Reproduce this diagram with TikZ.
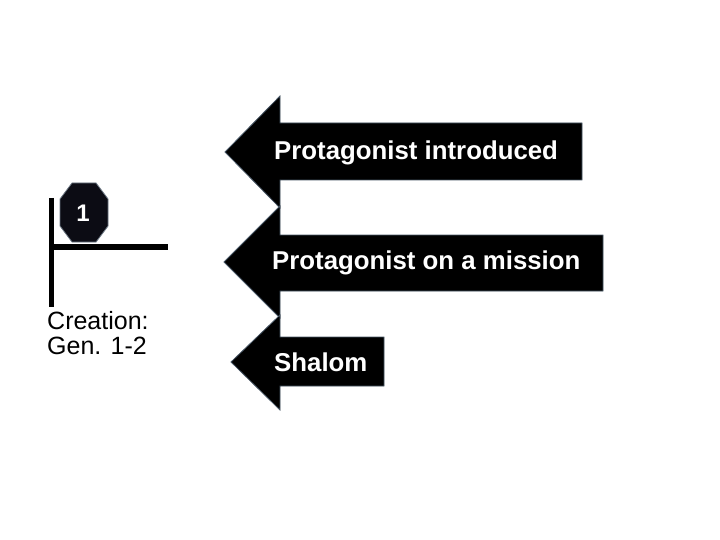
\documentclass[tikz,border=0pt]{standalone}
\usepackage{fontspec}
\setmainfont{Liberation Sans}
\definecolor{edge}{RGB}{70,85,100}
\definecolor{stopfill}{RGB}{12,12,20}

\begin{document}
\begin{tikzpicture}[x=1pt,y=-1pt,
        arrowbody/.style={fill=black,draw=edge,line width=0.8pt},
        label/.style={text=white,font=\bfseries\fontsize{25.8}{28}\selectfont,anchor=west,inner sep=0pt}]
        \useasboundingbox (0,0) rectangle (720,540);

        % timeline mark
        \draw[line width=5pt] (51,198) -- (51,307);
        \draw[line width=6pt] (51,247) -- (168,247);
        \filldraw[fill=stopfill,draw=edge!80,line width=0.8pt]
            (72,183) -- (96,183) -- (108,199) -- (108,226) -- (96,242) -- (72,242) -- (60,226) -- (60,199) -- cycle;
        \node[text=white,font=\bfseries\fontsize{24}{26}\selectfont,inner sep=0pt] (one) at (83,213) {1};
        \node[anchor=base west,align=left,inner sep=0pt,font=\fontsize{25}{24.5}\selectfont] (creation) at (47,354) {Creation:\\Gen. 1-2};

        % arrows
        \draw[arrowbody] (225,152) -- (280,96) -- (280,123) -- (582,123) -- (582,180) -- (280,180) -- (280,208) -- cycle;
        \node[label] (intro) at (274,153) {Protagonist introduced};

        \draw[arrowbody] (224,262) -- (280,206) -- (280,235) -- (603,235) -- (603,291) -- (280,291) -- (280,318) -- cycle;
        \node[label] (mission) at (272,263) {Protagonist on a mission};

        \draw[arrowbody] (231,362) -- (280,315) -- (280,337) -- (384,337) -- (384,386) -- (280,386) -- (280,410) -- cycle;
        \node[label] (shalom) at (274,362) {Shalom};
\end{tikzpicture}
\end{document}
